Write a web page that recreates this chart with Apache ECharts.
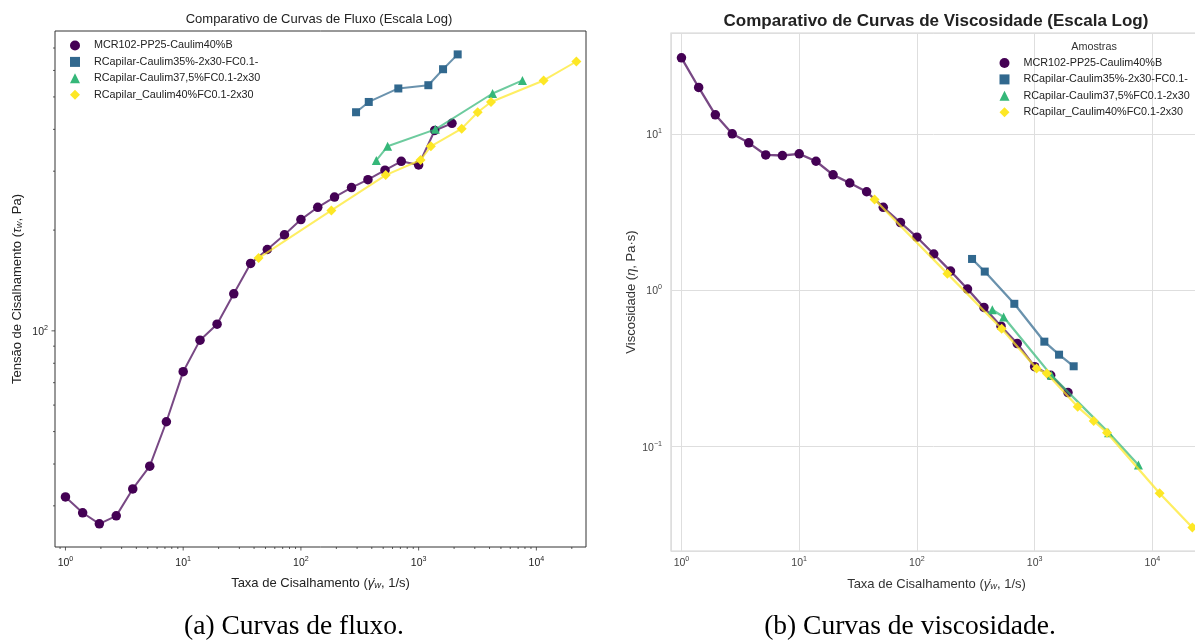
<!DOCTYPE html>
<html><head><meta charset="utf-8">
<script src="https://cdn.jsdelivr.net/npm/echarts@6/dist/echarts.min.js"></script>
<style>html,body{margin:0;padding:0;background:#fff}#c{width:1195px;height:642px}</style>
</head><body><div id="c"></div>
<script>
// ---------- data ----------
const seriesNames = ['MCR102-PP25-Caulim40%B', 'RCapilar-Caulim35%-2x30-FC0.1-', 'RCapilar-Caulim37,5%FC0.1-2x30', 'RCapilar_Caulim40%FC0.1-2x30'];

const mcrRate   = [1, 1.40, 1.94, 2.70, 3.73, 5.2, 7.2, 10.0, 13.9, 19.4, 26.9, 37.4, 51.8, 72.5, 100, 139, 193, 269, 371, 518, 712, 1000, 1369, 1920];
const mcrStress = [31.9, 28.6, 26.5, 28.0, 33.7, 39.4, 53.5, 75.5, 93.8, 104.7, 129, 159, 175, 193.6, 215, 234, 251, 268, 283, 302, 321, 313, 397, 417];
const mcrVisc   = [30.8, 19.9, 13.3, 10.05, 8.8, 7.36, 7.3, 7.48, 6.71, 5.49, 4.87, 4.28, 3.40, 2.72, 2.19, 1.71, 1.33, 1.02, 0.778, 0.59, 0.457, 0.325, 0.286, 0.222];

const cap35Rate   = [294, 377, 672, 1209, 1612, 2146];
const cap35Stress = [450, 483, 530, 542, 605, 670];
const cap35Visc   = [1.59, 1.32, 0.821, 0.470, 0.388, 0.327];

const cap37Rate   = [437, 545, 1388, 4246, 7618];
const cap37Stress = [323, 356, 400, 512, 560];
const cap37Visc   = [0.753, 0.676, 0.286, 0.123, 0.0764];

const cap40Rate   = [43.7, 181.5, 525, 1038, 1270, 2322, 3174, 4118, 11520, 21870];
const cap40Stress = [165, 229, 292, 324, 356, 402, 450, 483, 560, 638];
const cap40Visc   = [3.82, 1.28, 0.569, 0.316, 0.294, 0.180, 0.146, 0.123, 0.0504, 0.0304];

// axis ranges and tick values
const xRange = [0.815, 26400];
const stressRange = [22.6, 787];
const viscRange = [0.0215, 44.4];
const majorTicksX = [1, 10, 100, 1000, 10000];
const minorTicksX = [0.9, 2, 3, 4, 5, 6, 7, 8, 9, 20, 30, 40, 50, 60, 70, 80, 90, 200, 300, 400, 500, 600, 700, 800, 900, 2000, 3000, 4000, 5000, 6000, 7000, 8000, 9000, 20000];
const majorTicksY = [100];
const minorTicksY = [30, 40, 50, 60, 70, 80, 90, 200, 300, 400, 500, 600, 700];

const colors = ['#440154', '#31688e', '#35b779', '#fde725'];
const symbols = ['circle', 'rect', 'triangle', 'diamond'];
const symbolSizes = [9.5, 8, 9, 10];

// ---------- chart ----------
const FONT = '"Liberation Sans", Arial, Helvetica, sans-serif';
const chart = echarts.init(document.getElementById('c'), null, {renderer: 'canvas'});

function powLabel(v) {
  const e = Math.log10(v), r = Math.round(e);
  if (Math.abs(e - r) > 1e-6) return '';
  return '{b|10}{s|' + (r < 0 ? '\u2212' + (-r) : r) + '}';
}
function richPow(color, size) {
  return {
    b: {fontSize: size, color: color, fontFamily: FONT, verticalAlign: 'bottom', padding: [2, 0, 0, 0]},
    s: {fontSize: size * 0.68, color: color, fontFamily: FONT, verticalAlign: 'top'}
  };
}
function nameRich(color, size) {
  return {
    it: {fontSize: size, fontStyle: 'italic', color: color, fontFamily: FONT},
    sub: {fontSize: size * 0.72, fontStyle: 'italic', color: color, fontFamily: FONT, verticalAlign: 'bottom', padding: [5, 0, 0, 0]}
  };
}
function pairs(xs, ys) { return xs.map((x, i) => [x, ys[i]]); }

function tickSeries(values, axis, len, fixedVal) {
  return {
    type: 'custom', xAxisIndex: 0, yAxisIndex: 0, silent: true, clip: false, z: 1, animation: false,
    data: values.map(v => axis === 'x' ? [v, fixedVal] : [fixedVal, v]),
    renderItem: function (params, api) {
      const p = api.coord([api.value(0), api.value(1)]);
      const shape = axis === 'x'
        ? {x1: p[0], y1: p[1], x2: p[0], y2: p[1] + len}
        : {x1: p[0], y1: p[1], x2: p[0] - len, y2: p[1]};
      return {type: 'line', shape: shape, style: {stroke: '#333', lineWidth: 0.8}};
    }
  };
}

const rateSets = [mcrRate, cap35Rate, cap37Rate, cap40Rate];
const stressSets = [mcrStress, cap35Stress, cap37Stress, cap40Stress];
const viscSets = [mcrVisc, cap35Visc, cap37Visc, cap40Visc];

const series = [];
seriesNames.forEach((n, i) => {
  series.push({
    type: 'line', name: n, xAxisIndex: 0, yAxisIndex: 0, data: pairs(rateSets[i], stressSets[i]),
    symbol: symbols[i], symbolSize: symbolSizes[i], z: 3 + i,
    itemStyle: {color: colors[i]}, lineStyle: {color: colors[i], width: 2, opacity: 0.72},
    emphasis: {disabled: true}, animation: false
  });
});
seriesNames.forEach((n, i) => {
  series.push({
    type: 'line', name: n, xAxisIndex: 1, yAxisIndex: 1, data: pairs(rateSets[i], viscSets[i]),
    symbol: symbols[i], symbolSize: symbolSizes[i], z: 3 + i,
    itemStyle: {color: colors[i]}, lineStyle: {color: colors[i], width: 2.3, opacity: 0.72},
    emphasis: {disabled: true}, animation: false
  });
});
series.push(tickSeries(majorTicksX, 'x', 3.5, stressRange[0]));
series.push(tickSeries(minorTicksX, 'x', 2, stressRange[0]));
series.push(tickSeries(majorTicksY, 'y', 3.5, xRange[0]));
series.push(tickSeries(minorTicksY, 'y', 2, xRange[0]));

const legendData = seriesNames.map((n, i) => ({name: n, icon: symbols[i]}));
function legendAt(left, top) {
  return {
    left: left, top: top, orient: 'vertical', padding: 0, itemWidth: 10, itemHeight: 10, itemGap: 5.4,
    selectedMode: false, data: legendData,
    textStyle: {fontSize: 10.8, color: '#222', fontFamily: FONT, padding: [0, 0, 0, 9], lineHeight: 10}
  };
}

const NAME_SIZE = 13;
const option = {
  animation: false,
  textStyle: {fontFamily: FONT},
  grid: [
    {left: 55, top: 31, width: 531, height: 516, show: true, borderColor: '#333', borderWidth: 1, backgroundColor: 'transparent', containLabel: false, outerBoundsMode: 'none'},
    {left: 671, top: 33, width: 531, height: 518, show: true, borderColor: '#d4d4d4', borderWidth: 1.2, backgroundColor: 'transparent', containLabel: false, outerBoundsMode: 'none'}
  ],
  xAxis: [
    {type: 'log', logBase: 10, gridIndex: 0, min: xRange[0], max: xRange[1],
     axisLine: {show: false}, axisTick: {show: false}, splitLine: {show: false},
     axisLabel: {formatter: powLabel, margin: 9, rich: richPow('#222', 10.5)},
     name: 'Taxa de Cisalhamento ({it|\u03B3\u0307}{sub|w}, 1/s)', nameLocation: 'middle', nameGap: 29,
     nameTextStyle: {fontSize: NAME_SIZE, color: '#222', fontFamily: FONT, rich: nameRich('#222', NAME_SIZE)}},
    {type: 'log', logBase: 10, gridIndex: 1, min: xRange[0], max: xRange[1],
     axisLine: {show: false}, axisTick: {show: false}, splitLine: {show: true, lineStyle: {color: '#dedede', width: 1}},
     axisLabel: {formatter: powLabel, margin: 5, rich: richPow('#444', 10.5)},
     name: 'Taxa de Cisalhamento ({it|\u03B3\u0307}{sub|w}, 1/s)', nameLocation: 'middle', nameGap: 26,
     nameTextStyle: {fontSize: NAME_SIZE, color: '#333', fontFamily: FONT, rich: nameRich('#333', NAME_SIZE)}}
  ],
  yAxis: [
    {type: 'log', logBase: 10, gridIndex: 0, min: stressRange[0], max: stressRange[1],
     axisLine: {show: false}, axisTick: {show: false}, splitLine: {show: false},
     axisLabel: {formatter: powLabel, margin: 7, rich: richPow('#222', 10.5)},
     name: 'Tens\u00e3o de Cisalhamento ({it|\u03C4}{sub|w}, Pa)', nameLocation: 'middle', nameGap: 31,
     nameTextStyle: {fontSize: NAME_SIZE, color: '#222', fontFamily: FONT, rich: nameRich('#222', NAME_SIZE)}},
    {type: 'log', logBase: 10, gridIndex: 1, min: viscRange[0], max: viscRange[1],
     axisLine: {show: false}, axisTick: {show: false}, splitLine: {show: true, lineStyle: {color: '#dedede', width: 1}},
     axisLabel: {formatter: powLabel, margin: 9, rich: richPow('#444', 10.5)},
     name: 'Viscosidade ({it|\u03B7}, Pa\u00b7s)', nameLocation: 'middle', nameGap: 24,
     nameTextStyle: {fontSize: NAME_SIZE, color: '#333', fontFamily: FONT, rich: nameRich('#333', NAME_SIZE)}}
  ],
  legend: [legendAt(70, 40), legendAt(999.5, 57.5)],
  graphic: [
    {type: 'text', x: 319, y: 19.5, silent: true, style: {text: 'Comparativo de Curvas de Fluxo (Escala Log)', font: '13px ' + FONT, fill: '#222', align: 'center', verticalAlign: 'middle', textAlign: 'center', textVerticalAlign: 'middle'}},
    {type: 'text', x: 936, y: 21.5, silent: true, style: {text: 'Comparativo de Curvas de Viscosidade (Escala Log)', font: 'bold 17px ' + FONT, fill: '#222', align: 'center', verticalAlign: 'middle', textAlign: 'center', textVerticalAlign: 'middle'}},
    {type: 'text', x: 1094, y: 47, silent: true, style: {text: 'Amostras', font: '10.8px ' + FONT, fill: '#333', align: 'center', verticalAlign: 'middle', textAlign: 'center', textVerticalAlign: 'middle'}},
    {type: 'text', x: 294, y: 627, silent: true, style: {text: '(a) Curvas de fluxo.', font: '27.5px "Liberation Serif", "Times New Roman", serif', fill: '#000', align: 'center', verticalAlign: 'middle', textAlign: 'center', textVerticalAlign: 'middle'}},
    {type: 'text', x: 910, y: 627, silent: true, style: {text: '(b) Curvas de viscosidade.', font: '27.5px "Liberation Serif", "Times New Roman", serif', fill: '#000', align: 'center', verticalAlign: 'middle', textAlign: 'center', textVerticalAlign: 'middle'}}
  ],
  series: series
};
chart.setOption(option);
</script></body></html>
